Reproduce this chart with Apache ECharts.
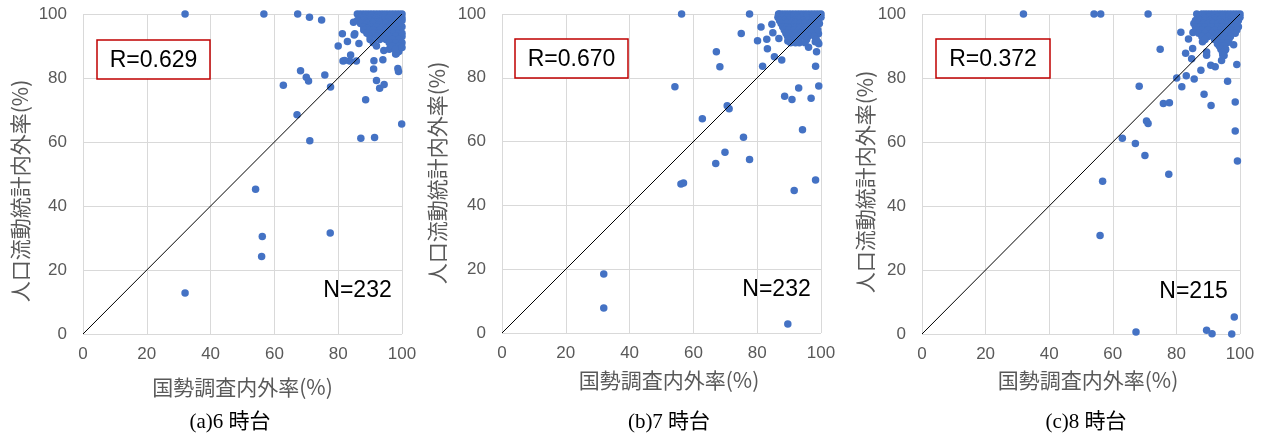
<!DOCTYPE html>
<html>
<head>
<meta charset="utf-8">
<script src="https://cdn.jsdelivr.net/npm/echarts@6/dist/echarts.min.js"></script>
<style>
html,body{margin:0;padding:0;background:#fff;}
#chart{width:1269px;height:439px;}
</style>
</head>
<body>
<div id="chart"></div>
<script>
// ---- data ----
const tickValues = [0, 20, 40, 60, 80, 100];
const xTitle = '国勢調査内外率(%)';
const yTitle = '人口流動統計内外率(%)';
const captions = ['(a)6 時台', '(b)7 時台', '(c)8 時台'];
const rLabels = ['R=0.629', 'R=0.670', 'R=0.372'];
const nLabels = ['N=232', 'N=232', 'N=215'];

// (a) 6時台 : [国勢調査内外率, 人口流動統計内外率]
const panelA = [
  [32,100],[56.7,100],[67.3,100],[71,99],[74.8,98.1],[80,90],[81.3,93.8],[81.5,85.3],[82.9,91.4],[83.6,85.3],
  [83.9,87.2],[84.8,97.4],[85,93.4],[85.7,85.3],[86.5,90.8],[68.2,82.3],[70,80.2],[70.7,79.1],[75.8,80.9],[62.8,77.7],
  [77.6,77.2],[67.1,68.5],[71.1,60.4],[87.1,61.2],[91.4,61.4],[99.9,65.6],[88.6,73.2],[91.1,82.8],[91.2,85.4],[94,85.7],
  [92,79.2],[93,76.8],[94.4,78],[98.7,83],[98.9,82],[94.3,88.6],[96,89],[98,87.5],[99,88.3],[54.1,45.2],
  [56.2,30.5],[56,24.2],[77.5,31.6],[32,12.8],[82,85.5],[85.2,93.8],[96.7,89.3],[98.2,87.6],[99.2,89.6],[99.2,91.8],
  [86,100],[87,100],[88,100],[89,100],[90,100],[91,100],[92,100],[93,100],[94,100],[95,100],[96,100],[97,100],[98,100],[99,100],[100,100],
  [86.5,99.6],[88.5,99.6],[90.5,99.6],[92.5,99.6],[94.5,99.6],[96.5,99.6],[98.5,99.6],
  [87,99],[89,99],[91,99],[93,99],[95,99],[97,99],[99,99],[88,98.8],[90,98.8],[92,98.8],[94,98.8],[96,98.8],[98,98.8],[100,98.8],
  [86,98],[88,98],[90,98],[92,98],[94,98],[96,98],[98,98],[100,98],[89,97.6],[91,97.6],[93,97.6],[95,97.6],[97,97.6],[99,97.6],
  [87,97],[89,97],[91,97],[93,97],[95,97],[97,97],[99,97],[88.5,96.5],[92.5,96.5],[96.5,96.5],
  [88,96],[90,96],[92,96],[94,96],[96,96],[98,96],[100,96],[89,95.5],[95,95.5],
  [88,95],[90,95],[91,95],[93,95],[95,95],[97,95],[99,95],
  [89,94],[91,94],[93,94],[95,94],[97,94],[99,94],[100,94],
  [90,93],[92,93],[94,93],[96,93],[98,93],[100,93],
  [90,92],[93,92],[95,92],[97,92],[99,92],
  [91,91],[96,91],[98,91],[100,91],[92,90],[97,90],[99,90],[98,89],[100,89.5]
];

// (b) 7時台
const panelB = [
  [56.3,100],[77.6,100],[75,93.9],[81.2,95.9],[80.1,91.6],[83,92.1],[83.2,89.1],[85.4,86.6],[87.7,85.6],[81.7,83.6],
  [86.8,92.3],[84.9,94.1],[84.6,96.8],[86.7,100],[67.2,88.2],[68.3,83.5],[54.2,77.2],[70.6,71.2],[71.2,70.3],[62.8,67.2],
  [75.7,61.4],[69.9,56.7],[67,53.1],[77.6,54.4],[56.1,46.7],[56.9,47],[31.9,18.5],[31.9,7.8],[89.6,2.8],[88.6,74.2],
  [90.9,73.2],[93,76.8],[96.9,73.6],[99.3,77.4],[98.3,83.6],[94.2,63.7],[91.6,44.7],[98.3,48],[96.1,89.6],[98.6,88.2],
  [93.2,91],[98.2,91.3],[99.3,90.7],[89.6,91.5],[99,91.2],[99.2,93.8],
  [87,100],[88,100],[89,100],[90,100],[91,100],[92,100],[93,100],[94,100],[95,100],[96,100],[97,100],[98,100],[99,100],[100,100],
  [91.5,99.7],[93.5,99.7],[95.5,99.7],[97.5,99.7],
  [86.5,99],[88,99],[89.5,99],[91,99],[92.5,99],[94,99],[95.5,99],[97,99],[98.5,99],[100,99],[90,98.6],[93,98.6],[96,98.6],[99,98.6],
  [87,98],[88.5,98],[90,98],[91.5,98],[93,98],[94.5,98],[96,98],[97.5,98],[99,98],[89,97.5],[92,97.5],[95,97.5],[98,97.5],
  [87.5,97],[89,97],[90.5,97],[92,97],[93.5,97],[95,97],[96.5,97],[98,97],[99.5,97],
  [88,96],[89.5,96],[91,96],[92.5,96],[94,96],[95.5,96],[97,96],[98.5,96],[90,95.5],[93,95.5],
  [88.5,95],[90,95],[91.5,95],[93,95],[94.5,95],[96,95],[97.5,95],[99,95],
  [89,94],[90.5,94],[92,94],[93.5,94],[95,94],[97,94],
  [89.5,93],[91,93],[92.5,93],[94,93],[96,93],[98,93],
  [90,92],[91.5,92],[93,92],[95.5,92],[98.5,92],[90.5,91],[92,91],[95,91]
];

// (c) 8時台
const panelC = [
  [31.9,100],[54.1,100],[56.2,100],[71.1,100],[86.4,100],[81.4,94.3],[74.9,89],[82.9,87.7],[84.8,86],[85.1,89.2],
  [83.8,92.2],[85.2,94.2],[87.7,82.4],[85.6,79.7],[83.1,80.7],[80.1,80],[81.7,77.3],[68.3,77.4],[75.9,72],[77.8,72.3],
  [88.7,74.9],[90.9,71.4],[90.8,84],[92.2,83.5],[96.1,79],[99,84.2],[98.5,72.5],[98.5,63.4],[99.2,54.1],[89.5,87.1],
  [94.2,85.5],[98,90.4],[63,61.2],[67.1,59.5],[70.6,66.6],[71.1,65.8],[70.1,55.8],[77.6,49.9],[56.8,47.7],[56,30.8],
  [67.3,0.6],[89.5,1.2],[91.2,0.1],[97.4,0],[98.2,5.3],[88.2,91.3],[89.5,88.1],[92.9,90.7],[94.6,87.1],[95.3,88.7],
  [88,100],[89,100],[90,100],[91,100],[92,100],[93,100],[94,100],[95,100],[96,100],[97,100],[98,100],[99,100],[100,100],
  [90.5,99.6],[92.5,99.6],[94.5,99.6],[96.5,99.6],[98.5,99.6],
  [87,99],[88.5,99],[90,99],[91.5,99],[93,99],[94.5,99],[96,99],[97.5,99],[99,99],[100,99],[89,98.6],[92,98.6],[95,98.6],[98,98.6],
  [86,98],[87.5,98],[89,98],[90.5,98],[92,98],[93.5,98],[95,98],[96.5,98],[98,98],[99.5,98],[91,97.5],[94,97.5],[97,97.5],
  [85.5,97],[87,97],[88.5,97],[90,97],[91.5,97],[93,97],[94.5,97],[96,97],[97.5,97],[99,97],
  [86,96],[87.5,96],[89,96],[91,96],[93,96],[94.5,96],[96,96],[97.5,96],[99.5,96],
  [86.5,95],[88,95],[90,95],[92,95],[94,95],[95.5,95],[97,95],[99,95],
  [87,94],[89,94],[91,94],[93,94],[94.5,94],[96,94],[98.5,94],
  [88,93],[90,93],[92.5,93],[94,93],[95.5,93],[97,93],
  [89,92],[92,92],[93.5,92],[95,92],[96.5,92],
  [93,91],[94.5,91],[96,91],[93.5,90],[95,90],[94,89],[95.5,89],[94.5,88],[95,87]
];
const diagonal = [[0, 0], [100, 100]];

// ---- layout ----
const grids = [
  {left: 83, top: 14, width: 319, height: 320},
  {left: 502, top: 14, width: 319, height: 319},
  {left: 922, top: 14, width: 318, height: 320}
];
const panels = [panelA, panelB, panelC];
const rBoxes = [[97, 40, 113, 39], [515, 39, 113, 39], [936, 39, 114, 39]];
const nPos = [[357.5, 291], [776.5, 290], [1193.5, 292]];
const capPos = [[230, 422], [669, 422], [1086, 422]];
const xTitlePos = [[242.5, 387], [669, 380], [1088, 380]];
const yTitlePos = [[20, 191], [437, 173], [865, 182]];

const gray = '#595959';
const tickFont = {color: gray, fontSize: 17, fontFamily: '"Liberation Sans", Arial, sans-serif'};

function axis(i, isX) {
  return {
    type: 'value', gridIndex: i, min: tickValues[0], max: tickValues[tickValues.length - 1],
    interval: tickValues[1] - tickValues[0],
    axisLine: {show: false}, axisTick: {show: false},
    splitLine: {show: true, lineStyle: {color: '#d9d9d9', width: 1}},
    axisLabel: Object.assign({margin: isX ? 12 : 16}, tickFont)
  };
}

const series = [];
const graphic = [];
panels.forEach((pts, i) => {
  series.push({
    type: 'scatter', xAxisIndex: i, yAxisIndex: i, data: pts,
    symbol: 'circle', symbolSize: 7.5, itemStyle: {color: '#4472c4', opacity: 1}, z: 2
  });
  series.push({
    type: 'line', xAxisIndex: i, yAxisIndex: i, data: diagonal, symbol: 'none',
    lineStyle: {color: '#000', width: 1}, silent: true, z: 3
  });
  const b = rBoxes[i];
  graphic.push({type: 'rect', shape: {x: b[0], y: b[1], width: b[2], height: b[3]},
    style: {fill: '#fff', stroke: '#c00000', lineWidth: 1.5}, z: 10});
  graphic.push({type: 'text', x: b[0] + b[2] / 2, y: b[1] + b[3] / 2 + 1, z: 11,
    style: {text: rLabels[i], fill: '#000', fontSize: 23, fontFamily: '"Liberation Sans", Arial, sans-serif',
      textAlign: 'center', textVerticalAlign: 'middle'}});
  graphic.push({type: 'text', x: nPos[i][0], y: nPos[i][1], z: 11,
    style: {text: nLabels[i], fill: '#000', fontSize: 23, fontFamily: '"Liberation Sans", Arial, sans-serif',
      textAlign: 'center', textVerticalAlign: 'middle'}});
  graphic.push({type: 'text', x: capPos[i][0], y: capPos[i][1], z: 11,
    style: {text: captions[i], fill: '#000', fontSize: 21, fontFamily: '"Liberation Serif", "Noto Sans CJK JP", serif',
      textAlign: 'center', textVerticalAlign: 'middle'}});
  graphic.push({type: 'text', x: xTitlePos[i][0], y: xTitlePos[i][1], z: 11,
    style: {text: xTitle, fill: gray, fontSize: 21, fontFamily: '"Noto Sans CJK JP", sans-serif',
      textAlign: 'center', textVerticalAlign: 'middle'}});
  graphic.push({type: 'text', x: yTitlePos[i][0], y: yTitlePos[i][1], rotation: Math.PI / 2, z: 11,
    style: {text: yTitle, fill: gray, fontSize: 21, fontFamily: '"Noto Sans CJK JP", sans-serif',
      textAlign: 'center', textVerticalAlign: 'middle'}});
});

const chart = echarts.init(document.getElementById('chart'), null, {renderer: 'canvas'});
chart.setOption({
  animation: false,
  backgroundColor: '#fff',
  grid: grids,
  xAxis: [0, 1, 2].map(i => axis(i, true)),
  yAxis: [0, 1, 2].map(i => axis(i, false)),
  series: series,
  graphic: graphic
});
</script>
</body>
</html>
